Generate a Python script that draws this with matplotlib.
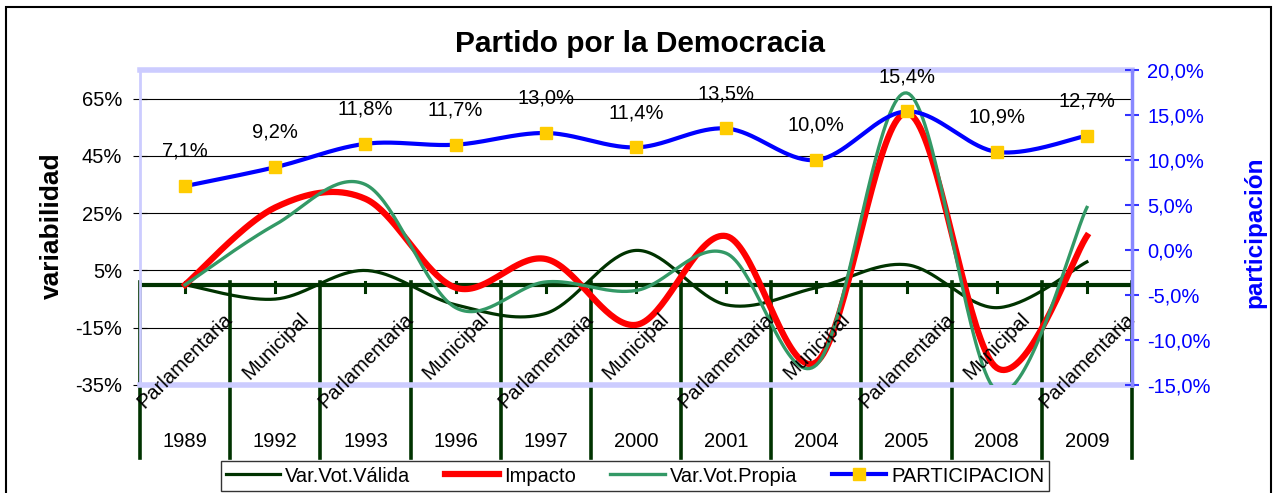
import numpy as np
import matplotlib
matplotlib.use("Agg")
import matplotlib.pyplot as plt
from matplotlib.lines import Line2D
from matplotlib.patches import Rectangle
from matplotlib.ticker import FuncFormatter

plt.rcParams["font.family"] = ["Liberation Sans", "DejaVu Sans"]

# =================== DATA ===================
years = ["1989", "1992", "1993", "1996", "1997", "2000", "2001", "2004", "2005", "2008", "2009"]
tipos = ["Parlamentaria", "Municipal", "Parlamentaria", "Municipal", "Parlamentaria", "Municipal",
         "Parlamentaria", "Municipal", "Parlamentaria", "Municipal", "Parlamentaria"]

var_vot_valida = [0, -5, 5, -7, -10, 12, -7, -1, 7, -8, 8]        # % (left axis)
impacto = [0, 27, 30, -1, 9, -14, 17, -27, 60, -29, 17]            # % (left axis)
var_vot_propia = [0, 21, 35, -8, 1, -2, 11, -28, 67, -37, 27]      # % (left axis)
participacion = [7.1, 9.2, 11.8, 11.7, 13.0, 11.4, 13.5, 10.0, 15.4, 10.9, 12.7]  # % (right axis)

left_ticks = [-35, -15, 5, 25, 45, 65]
right_ticks = [-15, -10, -5, 0, 5, 10, 15, 20]

# =================== STYLE ===================
C_VALIDA = "#003300"
C_IMPACTO = "#ff0000"
C_PROPIA = "#339966"
C_PART = "#0000ff"
C_MARK = "#ffcc00"
C_BORDER = "#ccccff"
FS = 14.5
W, H = 1274, 493


def smooth(y, n=40):
    """Excel-like smoothed line: cubic Bezier through the points."""
    y = np.asarray(y, dtype=float)
    x = np.arange(len(y), dtype=float)
    pts = np.column_stack([x, y])
    out = [pts[0]]
    t = np.linspace(0, 1, n)[1:, None]
    for i in range(len(pts) - 1):
        p0 = pts[i]
        p3 = pts[i + 1]
        prev = pts[i - 1] if i > 0 else pts[i]
        nxt = pts[i + 2] if i + 2 < len(pts) else pts[i + 1]
        p1 = p0 + (p3 - prev) / 6.0
        p2 = p3 - (nxt - p0) / 6.0
        seg = ((1 - t) ** 3) * p0 + 3 * ((1 - t) ** 2) * t * p1 + 3 * (1 - t) * t ** 2 * p2 + t ** 3 * p3
        out.extend(seg)
    out = np.array(out)
    return out[:, 0], out[:, 1]


fig = plt.figure(figsize=(W / 100, H / 100), dpi=100)
ax = fig.add_axes([140 / W, 1 - 385 / H, (1132 - 140) / W, (385 - 70) / H])
ax2 = ax.twinx()

n = len(years)
ax.set_xlim(-0.5, n - 0.5)
ax.set_ylim(-35, 75)
ax2.set_ylim(-15, 20)

# left axis
ax.set_yticks(left_ticks)
ax.yaxis.set_major_formatter(FuncFormatter(lambda v, p: f"{v:.0f}%"))
ax.tick_params(axis="y", direction="inout", length=10, color="black", labelsize=FS, pad=8)
ax.yaxis.grid(True, color="black", linewidth=0.8)
ax.set_axisbelow(True)
ax.set_xticks([])
for side in ["top", "bottom"]:
    ax.spines[side].set_color(C_BORDER)
    ax.spines[side].set_linewidth(4)
ax.spines["left"].set_color(C_BORDER)
ax.spines["left"].set_linewidth(2)
ax.spines["right"].set_visible(False)

# right axis
ax2.set_yticks(right_ticks)
ax2.yaxis.set_major_formatter(FuncFormatter(lambda v, p: f"{v:.1f}%".replace(".", ",")))
ax2.tick_params(axis="y", direction="inout", length=10, width=1.5, color="#3333ff",
                labelcolor=C_PART, labelsize=FS, pad=6)
for side in ["top", "bottom", "left"]:
    ax2.spines[side].set_visible(False)
ax2.spines["right"].set_color("#8888ff")
ax2.spines["right"].set_linewidth(2.5)

# category axis at 0 with group separators
xs = np.arange(n)
ax.axhline(0, color=C_VALIDA, linewidth=3, zorder=1.5)
for b in np.arange(n + 1) - 0.5:
    ax.plot([b, b], [0.328, -0.232], color=C_VALIDA, linewidth=2.6,
            transform=ax.get_xaxis_transform(), clip_on=False, zorder=1.6)
for xc in xs:
    ax.plot([xc, xc], [0.295, 0.328], color=C_VALIDA, linewidth=2.2,
            transform=ax.get_xaxis_transform(), clip_on=False, zorder=1.6)

for xc, tp, yr in zip(xs, tipos, years):
    ax.text(xc, 0.24, tp, rotation=45, ha="center", va="top", fontsize=FS,
            transform=ax.get_xaxis_transform(), zorder=5)
    ax.text(xc, -0.178, yr, ha="center", va="center", fontsize=FS,
            transform=ax.get_xaxis_transform())

# series
sx, sy = smooth(var_vot_valida)
ax.plot(sx, sy, color=C_VALIDA, linewidth=2.3, zorder=3)
sx, sy = smooth(impacto)
ax.plot(sx, sy, color=C_IMPACTO, linewidth=4.5, zorder=3.1)
sx, sy = smooth(var_vot_propia)
ax.plot(sx, sy, color=C_PROPIA, linewidth=2.4, zorder=3.2)

sx, sy = smooth(participacion)
ax2.plot(sx, sy, color=C_PART, linewidth=3, zorder=3)
ax2.plot(xs, participacion, linestyle="none", marker="s", markersize=8,
         markerfacecolor=C_MARK, markeredgecolor=C_MARK, zorder=4)
for xc, v in zip(xs, participacion):
    ax2.annotate(f"{v:.1f}%".replace(".", ","), (xc, v), xytext=(0, 25),
                 textcoords="offset points", ha="center", va="center", fontsize=FS)

# labels
fig.text(640 / W, 1 - 44 / H, "Partido por la Democracia", ha="center", va="center",
         fontsize=21.5, fontweight="bold")
fig.text(52 / W, 1 - 226 / H, "variabilidad", rotation=90, ha="center", va="center",
         fontsize=19, fontweight="bold")
fig.text(1255 / W, 1 - 232 / H, "participación", rotation=90, ha="center", va="center",
         fontsize=17.5, fontweight="bold", color=C_PART)

# legend
handles = [
    Line2D([], [], color=C_VALIDA, linewidth=2.3),
    Line2D([], [], color=C_IMPACTO, linewidth=4.5),
    Line2D([], [], color=C_PROPIA, linewidth=2.4),
    Line2D([], [], color=C_PART, linewidth=3, marker="s", markersize=8,
           markerfacecolor=C_MARK, markeredgecolor=C_MARK),
]
labels = ["Var.Vot.Válida", "Impacto", "Var.Vot.Propia", "PARTICIPACION"]
leg = fig.legend(handles, labels, loc="center", bbox_to_anchor=(635 / W, 1 - 476 / H),
                 ncol=4, fontsize=FS, frameon=True, fancybox=False, handlelength=2.7,
                 handletextpad=0.25, columnspacing=1.7, borderpad=0.25, borderaxespad=0)
leg.get_frame().set_edgecolor("black")
leg.get_frame().set_linewidth(1)

# outer frame
fig.patches.append(Rectangle((6 / W, -0.05), (1271 - 6) / W, 1.05 - 7 / H,
                             transform=fig.transFigure, fill=False, edgecolor="black",
                             linewidth=1.5))

fig.savefig("out.png", dpi=100)
